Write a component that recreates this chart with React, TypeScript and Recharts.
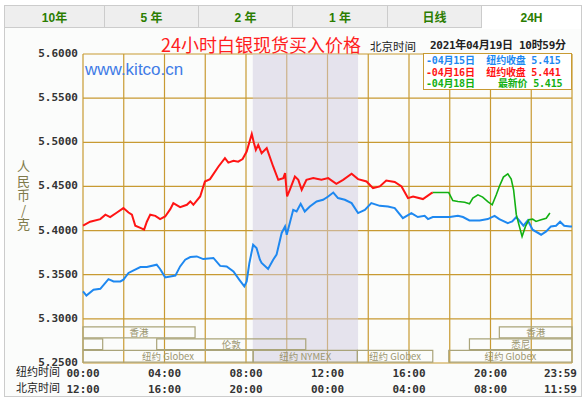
import React from 'react';
import {
  LineChart, Line, XAxis, YAxis, CartesianGrid, ReferenceArea
} from 'recharts';

// minutes after 00:00 New York time, silver price in CNY per gram
const apr15Times = [0, 10, 31, 51, 75, 90, 110, 119, 134, 149, 169, 188, 217, 227, 242, 257, 272, 286, 301, 316, 335, 354, 384, 404, 423, 443, 460, 475, 482, 490, 501, 511, 521, 526, 545, 560, 570, 585, 595, 600, 619, 629, 641, 653, 668, 688, 707, 722, 737, 751, 771, 791, 810, 830, 849, 874, 898, 918, 942, 967, 986, 1006, 1016, 1030, 1060, 1080, 1104, 1119, 1138, 1168, 1192, 1212, 1226, 1251, 1264, 1276, 1297, 1310, 1324, 1349, 1364, 1378, 1393, 1405, 1417, 1434, 1440];
const apr15Values = [5.331, 5.3263, 5.333, 5.334, 5.345, 5.3424, 5.3424, 5.3444, 5.352, 5.355, 5.3587, 5.3587, 5.3613, 5.3565, 5.347, 5.348, 5.349, 5.3594, 5.367, 5.37, 5.3707, 5.3677, 5.369, 5.36, 5.3594, 5.3538, 5.3444, 5.3368, 5.3424, 5.3633, 5.384, 5.3802, 5.367, 5.3633, 5.3565, 5.367, 5.3727, 5.3973, 5.4047, 5.3953, 5.4235, 5.4216, 5.4303, 5.4216, 5.4273, 5.433, 5.4349, 5.4386, 5.4431, 5.4368, 5.4349, 5.4311, 5.4198, 5.4235, 5.4311, 5.428, 5.4273, 5.4254, 5.414, 5.4198, 5.4153, 5.4167, 5.413, 5.4153, 5.4153, 5.4153, 5.4167, 5.4153, 5.4115, 5.4115, 5.413, 5.4167, 5.413, 5.4085, 5.4103, 5.4153, 5.4055, 5.4115, 5.401, 5.3953, 5.3991, 5.4047, 5.4055, 5.41, 5.4055, 5.4047, 5.4047];

const apr16Times = [0, 21, 51, 66, 80, 100, 119, 134, 144, 154, 169, 180, 188, 198, 213, 227, 242, 257, 266, 286, 306, 316, 325, 345, 359, 374, 399, 418, 428, 443, 457, 470, 482, 497, 503, 509, 516, 526, 541, 560, 575, 590, 595, 601, 609, 624, 634, 644, 658, 678, 702, 722, 746, 766, 791, 810, 835, 854, 874, 893, 918, 938, 957, 972, 1001, 1026, 1030];
const apr16Values = [5.4055, 5.41, 5.413, 5.418, 5.4153, 5.4205, 5.4255, 5.4205, 5.418, 5.4055, 5.403, 5.401, 5.41, 5.418, 5.4167, 5.413, 5.416, 5.4243, 5.431, 5.4266, 5.4292, 5.433, 5.4292, 5.4386, 5.4556, 5.4583, 5.4726, 5.482, 5.477, 5.479, 5.478, 5.481, 5.4895, 5.5095, 5.4997, 5.4914, 5.497, 5.4877, 5.4934, 5.4726, 5.4575, 5.4594, 5.465, 5.4386, 5.4462, 5.4612, 5.4575, 5.4462, 5.4575, 5.4594, 5.4575, 5.4594, 5.453, 5.4575, 5.4643, 5.4583, 5.4556, 5.448, 5.45, 5.4567, 5.455, 5.45, 5.4368, 5.4386, 5.4357, 5.4424, 5.4431];

const apr18Times = [1030, 1077, 1089, 1104, 1124, 1138, 1148, 1163, 1177, 1192, 1205, 1217, 1226, 1238, 1251, 1261, 1268, 1276, 1285, 1293, 1303, 1313, 1324, 1334, 1349, 1364, 1375];
const apr18Values = [5.4431, 5.4431, 5.434, 5.4329, 5.432, 5.4303, 5.4368, 5.4405, 5.4379, 5.4329, 5.4292, 5.4405, 5.45, 5.4606, 5.4643, 5.4583, 5.4462, 5.418, 5.4047, 5.3934, 5.4047, 5.4122, 5.413, 5.4103, 5.4122, 5.414, 5.4198];

const priceTicks = [5.25, 5.3, 5.35, 5.4, 5.45, 5.5, 5.55, 5.6];
const timeTicks = [0, 120, 240, 360, 480, 600, 720, 840, 960, 1080, 1200, 1320, 1440];

const nymexSession = [500, 810];
const sessionNames = ['香港', '香港', '', '伦敦', '悉尼', '纽约 Globex', '纽约 NYMEX', '纽约 Globex', '纽约 Globex'];
const sessionStarts = [0, 1226, 0, 217, 1138, 0, 501, 808, 1077];
const sessionEnds = [330, 1440, 58, 656, 1440, 501, 808, 1030, 1440];
const sessionRows = [0, 0, 1, 1, 1, 2, 2, 2, 2];

const legendRows = [
  { text: '-04月15日  纽约收盘 5.415', color: '#1e88f0' },
  { text: '-04月16日  纽约收盘 5.441', color: '#ff1414' },
  { text: '-04月18日    最新价 5.415', color: '#12b012' },
];

const tabs = ['10年', '5 年', '2 年', '1 年', '日线', '24H'];

const toSeries = (times: number[], values: number[]) =>
  times.map((t, i) => ({ t, v: values[i] }));

const rowBands = [[5.2785, 5.291], [5.2652, 5.2773], [5.251, 5.2644]];

const hhmm = (m: number) => {
  const mm = Math.min(m, 1439) % 1440;
  const h = Math.floor(mm / 60);
  const n = mm % 60;
  return `${String(h).padStart(2, '0')}:${String(n).padStart(2, '0')}`;
};

const monoFont = "'DejaVu Sans Mono', 'Noto Sans CJK SC', monospace";
const cjkFont = "'Noto Sans CJK SC', sans-serif";

const XTick = ({ x, y, payload }: any) => {
  const m = payload.value;
  if (m % 240 !== 0) return <g />;
  const last = m === 1440;
  const bj = last ? 719 : (m + 720) % 1440;
  const anchor = last ? 'end' : 'middle';
  const tx = last ? x + 5 : x;
  return (
    <g fontFamily={monoFont} fontWeight="bold" fontSize={11} fill="#333">
      <text x={tx} y={y + 14} textAnchor={anchor}>{hhmm(m)}</text>
      <text x={tx} y={y + 30} textAnchor={anchor}>{hhmm(bj)}</text>
    </g>
  );
};

const YTick = ({ x, y, payload }: any) => (
  <text x={x} y={y + 3} textAnchor="end" fontFamily={monoFont} fontWeight="bold" fontSize={11} fill="#333">
    {payload.value.toFixed(4)}
  </text>
);

export default function App() {
  const tabEdges = [4, 105, 199, 293, 388, 482, 582];
  return (
    <div style={{ position: 'absolute', left: 0, top: 0, width: 587, height: 400, background: '#fff', overflow: 'hidden', fontFamily: "'Liberation Sans', 'Noto Sans CJK SC', sans-serif" }}>
      {/* tabs */}
      {tabs.map((name, i) => {
        const sel = i === tabs.length - 1;
        return (
          <div key={name} style={{
            position: 'absolute', left: tabEdges[i], top: 5, width: tabEdges[i + 1] - tabEdges[i], height: sel ? 24 : 23,
            boxSizing: 'border-box', border: '1px solid #cccccc', borderLeft: i === 0 ? '1px solid #cccccc' : 'none',
            borderBottom: sel ? 'none' : '1px solid #cccccc',
            background: sel ? '#ffffff' : '#eeeeee', color: '#2b7d00', fontWeight: 'bold', fontSize: 12,
            display: 'flex', alignItems: 'center', justifyContent: 'center', whiteSpace: 'pre', zIndex: 2,
          }}>{name}</div>
        );
      })}
      {/* frame */}
      <div style={{ position: 'absolute', left: 4, top: 27, width: 578, height: 370, boxSizing: 'border-box', border: '1px solid #cccccc', background: '#fbfcfb' }} />

      <div style={{ position: 'absolute', left: 0, top: 0 }}>
        <LineChart width={587} height={400} margin={{ top: 54, right: 15, bottom: 0, left: 0 }}>
          <ReferenceArea x1={nymexSession[0]} x2={nymexSession[1]} fill="#cfcadf" fillOpacity={0.5} stroke="none" ifOverflow="hidden" />
          <CartesianGrid stroke="#c89a32" strokeWidth={1.2} horizontalValues={priceTicks} verticalValues={timeTicks} />
          {sessionNames.map((name, i) => (
            <ReferenceArea
              key={i}
              x1={sessionStarts[i]} x2={sessionEnds[i]}
              y1={rowBands[sessionRows[i]][0]} y2={rowBands[sessionRows[i]][1]}
              fill="none" stroke="#aaa47a" strokeWidth={1.2}
              label={{ value: name, position: 'center', fill: '#9c9670', fontSize: 9.5, fontFamily: cjkFont }}
            />
          ))}
          <XAxis dataKey="t" type="number" domain={[0, 1440]} ticks={timeTicks} allowDuplicatedCategory={false}
            axisLine={false} tickLine={false} tickSize={0} tickMargin={0} height={37} tick={<XTick />} interval={0} />
          <YAxis type="number" domain={[5.25, 5.6]} ticks={priceTicks} axisLine={false} tickLine={false}
            tickSize={0} tickMargin={5} width={83} tick={<YTick />} interval={0} />
          <Line data={toSeries(apr15Times, apr15Values)} dataKey="v" stroke="#1e88f0" strokeWidth={2} dot={false} isAnimationActive={false} />
          <Line data={toSeries(apr16Times, apr16Values)} dataKey="v" stroke="#ff1414" strokeWidth={2} dot={false} isAnimationActive={false} />
          <Line data={toSeries(apr18Times, apr18Values)} dataKey="v" stroke="#12b012" strokeWidth={1.6} dot={false} isAnimationActive={false} />
        </LineChart>
      </div>

      {/* title */}
      <div style={{ position: 'absolute', left: 161, top: 32, fontSize: 18, color: '#ff1e1e', whiteSpace: 'pre', fontFamily: cjkFont, lineHeight: '24px' }}>
        24小时白银现货买入价格
      </div>
      <div style={{ position: 'absolute', left: 370, top: 38, fontSize: 11.5, color: '#222', whiteSpace: 'pre', fontFamily: cjkFont, lineHeight: '16px' }}>
        北京时间
      </div>
      <div style={{ position: 'absolute', left: 430, top: 38, fontSize: 11, color: '#222', whiteSpace: 'pre', fontFamily: monoFont, fontWeight: 'bold', lineHeight: '16px', letterSpacing: -0.3 }}>
        2021年04月19日 10时59分
      </div>

      {/* watermark */}
      <div style={{ position: 'absolute', left: 85, top: 59, fontSize: 17, color: '#3f7be6', fontFamily: "'Liberation Sans', sans-serif", lineHeight: '22px' }}>
        www.kitco.cn
      </div>

      {/* legend */}
      <div style={{ position: 'absolute', left: 423, top: 53, width: 149, height: 37, boxSizing: 'border-box', border: '1px solid #c89a32', background: '#ffffff', padding: '1px 0 0 2px' }}>
        {legendRows.map((r) => (
          <div key={r.text} style={{ color: r.color, fontFamily: monoFont, fontWeight: 'bold', fontSize: 10, lineHeight: '11.5px', whiteSpace: 'pre', letterSpacing: -0.2 }}>
            {r.text}
          </div>
        ))}
      </div>

      {/* y axis title */}
      <div style={{ position: 'absolute', left: 15, top: 160, color: '#7f7a4a', fontSize: 13, lineHeight: '16px', letterSpacing: 1.5, writingMode: 'vertical-rl', textOrientation: 'upright', fontFamily: cjkFont }}>
        人民币/克
      </div>

      {/* time row labels */}
      <div style={{ position: 'absolute', left: 16, top: 367, fontSize: 11, color: '#222', fontFamily: monoFont, lineHeight: '12px' }}>纽约时间</div>
      <div style={{ position: 'absolute', left: 16, top: 383, fontSize: 11, color: '#222', fontFamily: monoFont, lineHeight: '12px' }}>北京时间</div>
    </div>
  );
}
